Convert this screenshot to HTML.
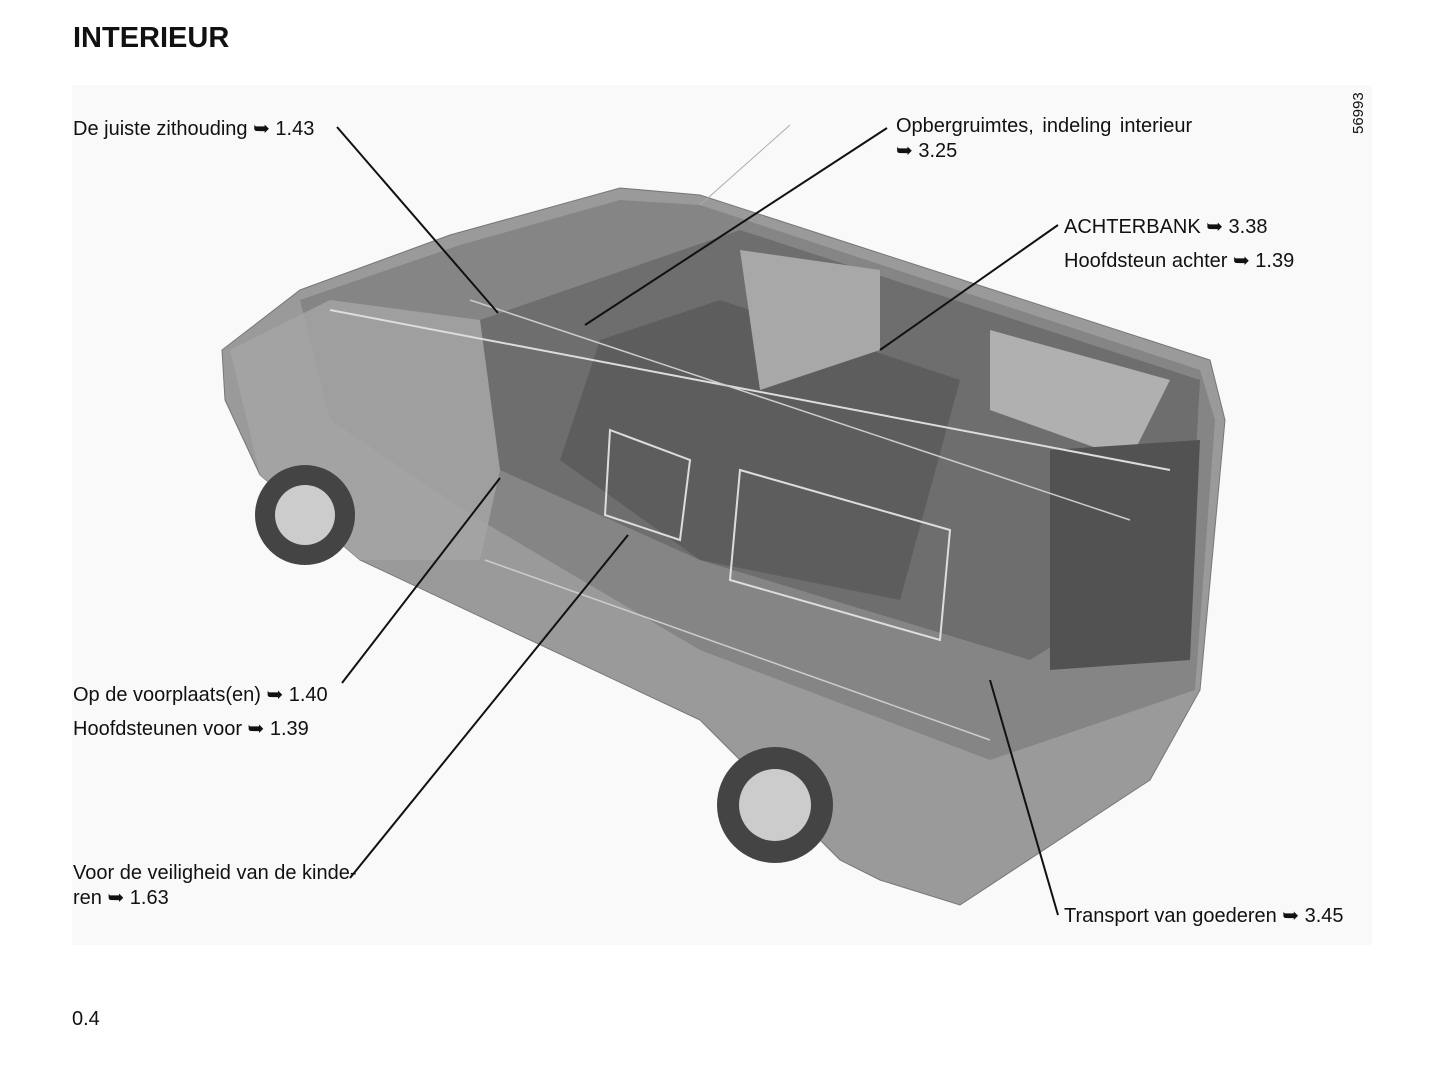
<!DOCTYPE html>
<html><head><meta charset="utf-8"><style>
body{margin:0;background:#fff;width:1445px;height:1070px;overflow:hidden;position:relative;font-family:"Liberation Sans",sans-serif;color:#111}
.t{position:absolute;font-size:20px;white-space:nowrap}
</style></head><body>
<div style="position:absolute;left:72px;top:85px;width:1300px;height:860px;background:#f9f9f9"></div>
<div class="t" style="left:73px;top:22px;font-size:29px;font-weight:bold">INTERIEUR</div>
<svg width="1445" height="1070" style="position:absolute;left:0;top:0">
<polygon points="222,350 300,290 450,235 620,188 700,195 1210,360 1225,420 1200,690 1150,780 960,905 880,880 840,860 700,720 360,560 260,475 225,400" fill="#9a9a9a" stroke="#777"/>
<polygon points="300,300 460,245 620,200 700,205 1200,370 1215,420 1195,690 990,760 700,650 480,520 330,420" fill="#858585"/>
<polygon points="480,320 740,230 1200,380 1190,560 1030,660 700,560 500,470" fill="#6e6e6e"/>
<polygon points="600,340 720,300 960,380 900,600 700,560 560,460" fill="#5d5d5d"/>
<polygon points="740,250 880,270 880,350 760,390" fill="#a8a8a8"/>
<polygon points="990,330 1170,380 1130,460 990,410" fill="#b0b0b0"/>
<polygon points="1050,450 1200,440 1190,660 1050,670" fill="#525252"/>
<polygon points="740,470 950,530 940,640 730,580" fill="none" stroke="#ddd" stroke-width="2"/>
<polygon points="610,430 690,460 680,540 605,515" fill="none" stroke="#ddd" stroke-width="2"/>
<polygon points="230,350 330,300 480,320 500,470 480,560 360,560 260,475" fill="#a5a5a5" opacity=".8"/>
<line x1="330" y1="310" x2="1170" y2="470" stroke="#ddd" stroke-width="2"/>
<line x1="470" y1="300" x2="1130" y2="520" stroke="#ccc" stroke-width="1.5"/>
<line x1="485" y1="560" x2="990" y2="740" stroke="#ccc" stroke-width="1.5"/>
<line x1="700" y1="205" x2="790" y2="125" stroke="#aaa" stroke-width="1"/>
<circle cx="305" cy="515" r="50" fill="#444"/><circle cx="305" cy="515" r="30" fill="#ccc"/>
<circle cx="775" cy="805" r="58" fill="#444"/><circle cx="775" cy="805" r="36" fill="#ccc"/>
<g stroke="#111" stroke-width="2" fill="none">
<line x1="337" y1="127" x2="498" y2="313"/>
<line x1="887" y1="128" x2="585" y2="325"/>
<line x1="1058" y1="225" x2="880" y2="350"/>
<line x1="342" y1="683" x2="500" y2="478"/>
<line x1="350" y1="878" x2="628" y2="535"/>
<line x1="1058" y1="915" x2="990" y2="680"/>
</g>
</svg>
<div class="t" style="left:73px;top:116px">De juiste zithouding ➥ 1.43</div>
<div class="t" style="left:896px;top:115px;word-spacing:3px">Opbergruimtes, indeling interieur</div>
<div class="t" style="left:896px;top:138px">➥ 3.25</div>
<div class="t" style="left:1064px;top:214px">ACHTERBANK ➥ 3.38</div>
<div class="t" style="left:1064px;top:248px">Hoofdsteun achter ➥ 1.39</div>
<div class="t" style="left:73px;top:682px">Op de voorplaats(en) ➥ 1.40</div>
<div class="t" style="left:73px;top:716px">Hoofdsteunen voor ➥ 1.39</div>
<div class="t" style="left:73px;top:862px">Voor de veiligheid van de kinde-</div>
<div class="t" style="left:73px;top:885px">ren ➥ 1.63</div>
<div class="t" style="left:1064px;top:903px">Transport van goederen ➥ 3.45</div>
<div class="t" style="left:1350px;top:134px;font-size:15px;transform:rotate(-90deg);transform-origin:left top">56993</div>
<div class="t" style="left:72px;top:1008px">0.4</div>
</body></html>
